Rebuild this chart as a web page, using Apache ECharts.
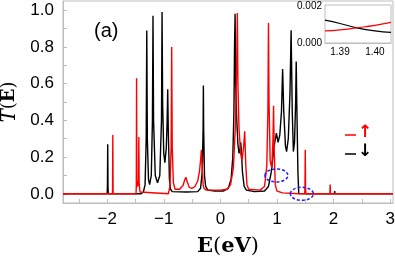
<!DOCTYPE html>
<html>
<head>
<meta charset="utf-8">
<script src="https://cdn.jsdelivr.net/npm/echarts@6/dist/echarts.min.js"></script>
<style>
html, body { margin: 0; padding: 0; background: #fff; }
#main { width: 395px; height: 259px; }
</style>
</head>
<body>
<div id="main"></div>
<script>
// tick values
var xTickLabels = [-2, -1, 0, 1, 2, 3];
var xTickMarks = [-2.5, -2, -1.5, -1, -0.5, 0, 0.5, 1, 1.5, 2, 2.5, 3];
var yTickLabels = [0, 0.2, 0.4, 0.6, 0.8, 1.0];
var yTickMarks = [0, 0.1, 0.2, 0.3, 0.4, 0.5, 0.6, 0.7, 0.8, 0.9, 1.0];
var insetXLabels = [1.39, 1.40];
var insetYLabels = [0, 0.002];

// spin up (red), [E, T]
var spinUp = [
	[-2.78, 0], [-1.905, 0], [-1.90, 0.32], [-1.895, 0],
	[-1.49, 0], [-1.485, 0.04], [-1.48, 0.63], [-1.475, 0.06], [-1.46, 0.04], [-1.445, 0.08], [-1.44, 0.31], [-1.435, 0.06], [-1.42, 0.01], [-1.40, 0],
	[-0.92, 0], [-0.89, 0.04], [-0.87, 0.25], [-0.86, 0.80], [-0.85, 0.25], [-0.83, 0.06], [-0.80, 0.025], [-0.72, 0.025],
	[-0.66, 0.045], [-0.63, 0.075], [-0.61, 0.09], [-0.59, 0.07], [-0.55, 0.035], [-0.50, 0.03], [-0.45, 0.04], [-0.40, 0.07],
	[-0.37, 0.12], [-0.35, 0.18], [-0.335, 0.24], [-0.32, 0.14], [-0.305, 0.05], [-0.29, 0.03], [-0.25, 0.02], [0.0, 0.02],
	[0.12, 0.025], [0.18, 0.05], [0.23, 0.14], [0.27, 0.4], [0.29, 0.75], [0.30, 0.985], [0.31, 0.6], [0.33, 0.35], [0.36, 0.22],
	[0.38, 0.18], [0.41, 0.25], [0.43, 0.34], [0.45, 0.15], [0.47, 0.05], [0.5, 0.025], [0.7, 0.02], [0.78, 0.04], [0.82, 0.15],
	[0.84, 0.45], [0.85, 0.93], [0.86, 0.5], [0.88, 0.18], [0.91, 0.14], [0.93, 0.3], [0.94, 0.48], [0.95, 0.25], [0.97, 0.05],
	[1.0, 0.015], [1.1, 0.005], [1.39, 0.0007], [1.49, 0.001], [1.495, 0.04], [1.50, 0.24], [1.505, 0.04], [1.51, 0],
	[1.935, 0], [1.94, 0.05], [1.945, 0], [3.05, 0]
];

// spin down (black), [E, T]
var spinDown = [
	[-2.78, 0], [-2.0, 0], [-1.995, 0.04], [-1.99, 0.27], [-1.985, 0.04], [-1.98, 0],
	[-1.40, 0], [-1.36, 0.01], [-1.33, 0.05], [-1.31, 0.3], [-1.30, 0.89], [-1.29, 0.3], [-1.27, 0.08], [-1.25, 0.05],
	[-1.22, 0.1], [-1.20, 0.4], [-1.19, 0.97], [-1.18, 0.4], [-1.15, 0.1], [-1.11, 0.06], [-1.07, 0.1], [-1.04, 0.4],
	[-1.03, 0.99], [-1.02, 0.5], [-1.00, 0.22], [-0.98, 0.17], [-0.955, 0.25], [-0.94, 0.4], [-0.93, 0.57], [-0.92, 0.35],
	[-0.90, 0.08], [-0.88, 0.025], [-0.85, 0.012], [-0.6, 0.01], [-0.40, 0.012], [-0.35, 0.03], [-0.32, 0.12], [-0.305, 0.35],
	[-0.30, 0.59], [-0.295, 0.35], [-0.28, 0.1], [-0.26, 0.04], [-0.22, 0.02], [-0.1, 0.015], [0.05, 0.015], [0.14, 0.03],
	[0.19, 0.08], [0.22, 0.2], [0.24, 0.45], [0.25, 0.79], [0.26, 0.98], [0.27, 0.6], [0.29, 0.4], [0.31, 0.27], [0.33, 0.22],
	[0.35, 0.25], [0.36, 0.28], [0.37, 0.24], [0.39, 0.12], [0.42, 0.04], [0.46, 0.02], [0.6, 0.012], [0.78, 0.015],
	[0.85, 0.04], [0.9, 0.12], [0.95, 0.26], [0.99, 0.33], [1.02, 0.28], [1.05, 0.32], [1.08, 0.45], [1.10, 0.68],
	[1.12, 0.45], [1.15, 0.26], [1.17, 0.23], [1.20, 0.3], [1.23, 0.55], [1.25, 0.89], [1.27, 0.45], [1.29, 0.23],
	[1.31, 0.28], [1.33, 0.5], [1.34, 0.72], [1.35, 0.5], [1.37, 0.12], [1.385, 0.0012], [1.40, 0.0006], [1.5, 0],
	[2.015, 0], [2.02, 0.015], [2.025, 0], [3.05, 0]
];

// inset, zoom on the crossing near 1.39 eV
var insetUp = [[1.3857, 0.00065], [1.39, 0.00071], [1.3948, 0.00082], [1.40, 0.00095], [1.4046, 0.00111]];
var insetDown = [[1.3857, 0.00123], [1.39, 0.00105], [1.3948, 0.00082], [1.40, 0.00065], [1.4046, 0.00057]];

// circled spots (blue dashed)
var circled = [[0.99, 0.1], [1.44, 0]];

var RED = '#ff0000';
var BLACK = '#000000';
var FRAME = '#bdbdbd';

var chart = echarts.init(document.getElementById('main'), null, { renderer: 'canvas' });

var option = {
	animation : false,
	backgroundColor : '#fff',
	textStyle : { fontFamily : 'Liberation Sans' },
	grid : [ {
		left : 63, top : 1, width : 330, height : 202, outerBoundsMode : 'none', containLabel : false,
		show : true, borderColor : FRAME, borderWidth : 1
	}, {
		left : 325, top : 5, width : 66, height : 38, outerBoundsMode : 'none', containLabel : false,
		show : true, borderColor : FRAME, borderWidth : 1, backgroundColor : '#fff', z : 5
	} ],
	xAxis : [ {
		type : 'value', gridIndex : 0, min : -2.78, max : 3.05,
		name : '{b|E}{p|(}{b|eV}{p|)}',
		nameLocation : 'middle', nameGap : 33,
		nameTextStyle : {
			rich : {
				b : { fontFamily : 'DejaVu Serif', fontWeight : 'bold', fontSize : 21, color : '#000' },
				p : { fontFamily : 'DejaVu Serif', fontSize : 21, color : '#000' }
			}
		},
		axisLine : { onZero : false, lineStyle : { color : FRAME } },
		axisTick : { inside : true, length : 4, customValues : xTickMarks, lineStyle : { color : FRAME } },
		axisLabel : { customValues : xTickLabels, color : '#000', fontSize : 17, margin : 8,
			formatter : function(v) { return v < 0 ? '\u2212' + (-v) : '' + v; } },
		splitLine : { show : false }
	}, {
		type : 'value', gridIndex : 1, min : 1.3857, max : 1.4046,
		axisLine : { onZero : false, lineStyle : { color : FRAME } },
		axisTick : { inside : true, length : 3, customValues : insetXLabels, lineStyle : { color : FRAME } },
		axisLabel : { customValues : insetXLabels, color : '#000', fontSize : 10, margin : 4,
			formatter : function(v) { return v.toFixed(2); } },
		splitLine : { show : false }
	} ],
	yAxis : [ {
		type : 'value', gridIndex : 0, min : -0.05, max : 1.05,
		name : '{t|T}{p|(}{b|E}{p|)}',
		nameLocation : 'middle', nameGap : 36, nameRotate : 90,
		nameTextStyle : {
			rich : {
				t : { fontFamily : 'DejaVu Serif', fontStyle : 'italic', fontSize : 20, color : '#000' },
				b : { fontFamily : 'DejaVu Serif', fontWeight : 'bold', fontSize : 18, color : '#000' },
				p : { fontFamily : 'DejaVu Serif', fontSize : 18, color : '#000' }
			}
		},
		axisLine : { onZero : false, lineStyle : { color : FRAME } },
		axisTick : { inside : true, length : 4, customValues : yTickMarks, lineStyle : { color : FRAME } },
		axisLabel : { customValues : yTickLabels, color : '#000', fontSize : 17, margin : 9,
			formatter : function(v) { return v.toFixed(1); } },
		splitLine : { show : false }
	}, {
		type : 'value', gridIndex : 1, min : 0, max : 0.00205,
		axisLine : { onZero : false, lineStyle : { color : FRAME } },
		axisTick : { inside : true, length : 3, customValues : insetYLabels, lineStyle : { color : FRAME } },
		axisLabel : { customValues : insetYLabels, color : '#000', fontSize : 10, margin : 3,
			formatter : function(v) { return v.toFixed(3); } },
		splitLine : { show : false }
	} ],
	series : [ {
		name : 'down', type : 'line', xAxisIndex : 0, yAxisIndex : 0,
		data : spinDown, showSymbol : false, z : 2,
		lineStyle : { color : BLACK, width : 1.4 }
	}, {
		name : 'up', type : 'line', xAxisIndex : 0, yAxisIndex : 0,
		data : spinUp, showSymbol : false, z : 3,
		lineStyle : { color : RED, width : 1.4 }
	}, {
		name : 'down inset', type : 'line', xAxisIndex : 1, yAxisIndex : 1,
		data : insetDown, showSymbol : false, smooth : true, z : 6,
		lineStyle : { color : BLACK, width : 1.2 }
	}, {
		name : 'up inset', type : 'line', xAxisIndex : 1, yAxisIndex : 1,
		data : insetUp, showSymbol : false, smooth : true, z : 6,
		lineStyle : { color : RED, width : 1.2 }
	} ]
};
chart.setOption(option);

// annotations: label, spin legend, dashed ellipses
var graphics = [ {
	type : 'text', left : 94, top : 21,
	style : { text : '(a)', font : '20px "Liberation Sans"', fill : '#000' }
}, {
	type : 'line', shape : { x1 : 345, y1 : 135, x2 : 356, y2 : 135 },
	style : { stroke : RED, lineWidth : 1.5 }
}, {
	type : 'text', left : 358, top : 124,
	style : { text : '\u2191', font : 'bold 17px "DejaVu Sans"', fill : RED }
}, {
	type : 'line', shape : { x1 : 345, y1 : 154, x2 : 356, y2 : 154 },
	style : { stroke : BLACK, lineWidth : 1.5 }
}, {
	type : 'text', left : 358, top : 143,
	style : { text : '\u2193', font : 'bold 17px "DejaVu Sans"', fill : BLACK }
} ];
circled.forEach(function(c) {
	var p = chart.convertToPixel({ gridIndex : 0 }, c);
	graphics.push({
		type : 'ellipse', z : 10,
		shape : { cx : p[0], cy : p[1], rx : 11.5, ry : 6.5 },
		style : { fill : 'none', stroke : '#1f1fff', lineWidth : 1.5, lineDash : [ 3, 2 ] }
	});
});
chart.setOption({ graphic : graphics });
</script>
</body>
</html>
